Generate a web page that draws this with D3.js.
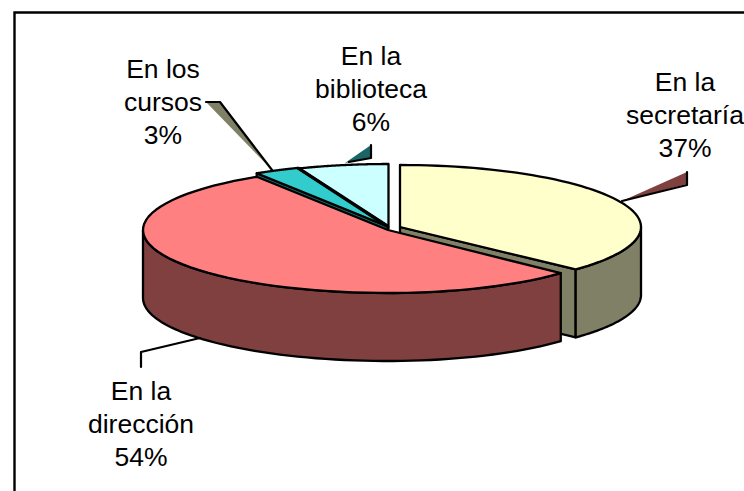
<!DOCTYPE html>
<html><head><meta charset="utf-8">
<script src="https://cdn.jsdelivr.net/npm/d3@7/dist/d3.min.js"></script>
<style>html,body{margin:0;padding:0;background:#fff}svg{display:block}</style>
</head><body><svg id="c" width="744" height="491"></svg>
<script>
const categories = ["En la secretaría","En la dirección","En los cursos","En la biblioteca"];
const values = [37,54,3,6];
const labelLines = [["En la","secretaría","37%"],["En la","dirección","54%"],["En los","cursos","3%"],["En la","biblioteca","6%"]];
const topColors = ["#FFFFCC","#FF8080","#33CCCC","#CCFFFF"];
const wallColors = ["#808066","#804040","#1A6666","#667F7F"];
const leaderColors = ["#804040","none","#808066","#1A6666"];

const svg = d3.select("#c");
svg.append("path").attr("d","M14.5 491V12.5H744").attr("fill","none").attr("stroke","#000").attr("stroke-width",2.4);

const DEPTH=68;
const centers=[[400,227],[388,230],[388,226.5],[388.5,228]];
const radii=[[241,62],[237,63],[245,63],[245,64]];   // right-side rx, ry
const leftRX=245;
const slices=d3.pie().sort(null).value(d=>d)(values);
const px=(i,a)=>{const s=Math.sin(a);return centers[i][0]+(s>0?radii[i][0]:leftRX)*s;};
const py=(i,a)=>centers[i][1]-radii[i][1]*Math.cos(a);
const arcPts=(i,a0,a1,dy=0)=>d3.range(0,61).map(k=>{const a=a0+(a1-a0)*k/60;return [px(i,a),py(i,a)+dy];});
const line=d3.line();
const g=svg.append("g").attr("stroke","#000").attr("stroke-width",2.3).attr("stroke-linejoin","round");

function wallOuter(i){const s=slices[i];
  const a0=Math.max(s.startAngle,Math.PI/2),a1=Math.min(s.endAngle,Math.PI*1.5);
  if(a1<=a0)return;
  const upper=arcPts(i,a0,a1),lower=arcPts(i,a0,a1,DEPTH).reverse();
  g.append("path").attr("d",line(upper.concat(lower))+"Z").attr("fill",wallColors[i]);
}
function wallInner(i,a){
  const p=centers[i],q=[px(i,a),py(i,a)];
  g.append("path").attr("d",line([p,q,[q[0],q[1]+DEPTH],[p[0],p[1]+DEPTH]])+"Z").attr("fill",wallColors[i]);
}
function drawTop(i){const s=slices[i];
  g.append("path").attr("d",line([centers[i]].concat(arcPts(i,s.startAngle,s.endAngle)))+"Z").attr("fill",topColors[i]);
}
// back to front
drawTop(3);
wallInner(2,slices[2].endAngle-0.0);
wallInner(2,slices[2].startAngle);
drawTop(2);
// heavier edge between the two small slices
g.append("path").attr("d",line([centers[2],[px(2,slices[2].endAngle),py(2,slices[2].endAngle)]])).attr("fill","none").attr("stroke-width",3.4);
wallInner(0,slices[0].endAngle);
wallOuter(0); drawTop(0);
wallOuter(1); drawTop(1);

const lg=svg.append("g").attr("stroke-linejoin","round").attr("stroke-linecap","round");
const black=(pts)=>lg.append("path").attr("d",line(pts)).attr("fill","none").attr("stroke","#000").attr("stroke-width",2.2);
const fillW=(pts,col)=>lg.append("path").attr("d",line(pts)+"Z").attr("fill",col);
// secretaría
fillW([[622,201],[687,172],[687,184]],leaderColors[0]);
black([[622,201],[687,185],[687,172]]);
// cursos
fillW([[272,170],[206,102],[220,102]],leaderColors[2]);
black([[206,102],[220,102],[272,170]]);
// biblioteca
fillW([[345,163],[371,145],[371,158]],leaderColors[3]);
black([[371,145],[371,158],[349,162]]);
// dirección
black([[200,338],[141,352],[141,367]]);

const labelPos=[[685,91],[141,400],[163,78],[371,65]];
const t=svg.append("g").attr("font-family","'Liberation Sans',Arial,sans-serif").attr("font-size",26.5).attr("text-anchor","middle").attr("fill","#000");
labelLines.forEach((ls,i)=>ls.forEach((s,j)=>t.append("text").attr("x",labelPos[i][0]).attr("y",labelPos[i][1]+j*33).text(s)));
</script></body></html>
